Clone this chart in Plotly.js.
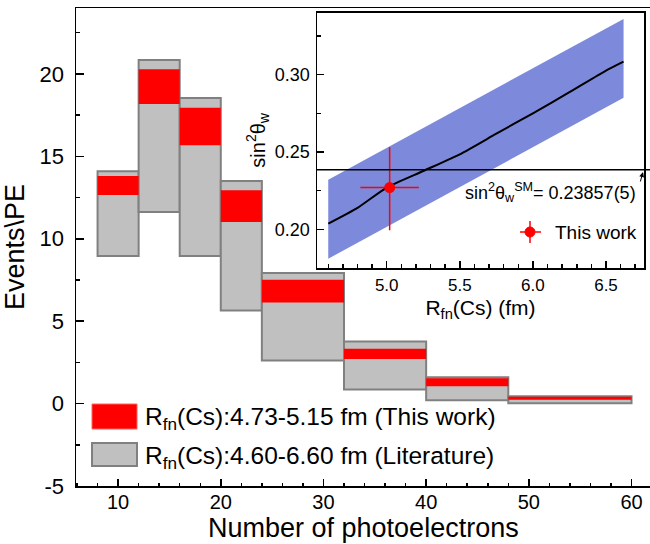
<!DOCTYPE html>
<html><head><meta charset="utf-8">
<script src="https://cdn.plot.ly/plotly-3.0.1.min.js"></script>
<style>html,body{margin:0;padding:0;background:#fff}#chart{width:650px;height:544px}</style>
</head><body><div id="chart"></div>
<script>
// ---- main histogram data ----
const binLow   = [8, 12, 16, 20, 24, 32, 40, 48];
const binHigh  = [12, 16, 20, 24, 32, 40, 48, 60];
const litLow   = [8.95, 11.63, 8.95, 5.65, 2.61, 0.85, 0.20, 0.02];
const litHigh  = [14.10, 20.85, 18.54, 13.50, 7.92, 3.77, 1.60, 0.45];
const thisLow  = [12.65, 18.18, 15.68, 11.02, 6.14, 2.70, 1.05, 0.24];
const thisHigh = [13.80, 20.28, 17.95, 12.95, 7.52, 3.32, 1.54, 0.42];
const xTickVals = [10, 20, 30, 40, 50, 60];
const yTickVals = [-5, 0, 5, 10, 15, 20];
const yTickText = ['-5', '0', '5', '10', '15', '20'];
const xTitle = 'Number of photoelectrons';
const yTitle = 'Events\\PE';
const legendLabels = ['R<sub>fn</sub>(Cs):4.73-5.15 fm (This work)', 'R<sub>fn</sub>(Cs):4.60-6.60 fm (Literature)'];

// ---- inset data ----
const rfnCurve  = [4.60, 4.80, 5.00, 5.25, 5.50, 5.75, 6.00, 6.25, 6.50, 6.62];
const sin2Curve = [0.2037, 0.2139, 0.2270, 0.2377, 0.2485, 0.2618, 0.2750, 0.2886, 0.3026, 0.3084];
const rfnBand   = [4.60, 6.62];
const bandUpper = [0.232, 0.336];
const bandLower = [0.181, 0.285];
const pointR = [5.02];
const pointS = [0.227];
const pointErrR = [0.20];
const pointErrSUp = [0.026];
const pointErrSDown = [0.0276];
const smValue = 0.23857;
const smLabel = 'sin<sup>2</sup>θ<sub>w</sub><sup>SM</sup>= 0.23857(5)';
const insetXTicks = [5.0, 5.5, 6.0, 6.5];
const insetYTicks = [0.20, 0.25, 0.30];

const centers = binLow.map((v, i) => (v + binHigh[i]) / 2);
const widths  = binLow.map((v, i) => binHigh[i] - v);

const FONT = 'Arial, "Liberation Sans", sans-serif';

const traces = [
  {type: 'bar', x: centers, width: widths, base: litLow,
   y: litHigh.map((v, i) => v - litLow[i]),
   marker: {color: '#c0c0c0', line: {color: '#808080', width: 2}},
   xaxis: 'x', yaxis: 'y', showlegend: false, hoverinfo: 'skip'},
  {type: 'bar', x: centers, width: widths, base: thisLow,
   y: thisHigh.map((v, i) => v - thisLow[i]),
   marker: {color: '#ff0000', line: {width: 0}},
   xaxis: 'x', yaxis: 'y', showlegend: false, hoverinfo: 'skip'},
  {type: 'scatter', mode: 'lines', x: rfnBand, y: bandLower,
   line: {width: 0, color: '#7d89db'}, xaxis: 'x2', yaxis: 'y2', showlegend: false},
  {type: 'scatter', mode: 'lines', x: rfnBand, y: bandUpper, fill: 'tonexty',
   fillcolor: '#7d89db', line: {width: 0, color: '#7d89db'}, xaxis: 'x2', yaxis: 'y2', showlegend: false},
  {type: 'scatter', mode: 'lines', x: rfnCurve, y: sin2Curve,
   line: {color: '#000', width: 2, shape: 'spline', smoothing: 0.6}, xaxis: 'x2', yaxis: 'y2', showlegend: false},
  {type: 'scatter', mode: 'markers', x: pointR, y: pointS,
   marker: {color: '#ff0000', size: 11},
   error_x: {type: 'data', array: pointErrR, color: '#ff0000', thickness: 1.5, width: 0},
   error_y: {type: 'data', symmetric: false, array: pointErrSUp, arrayminus: pointErrSDown, color: '#ff0000', thickness: 1.5, width: 0},
   xaxis: 'x2', yaxis: 'y2', showlegend: false}
];

// pixel -> paper helpers (plot area: x 76..650, y 8..486)
const L = 76, R = 650, T = 8, B = 486;
const px = v => (v - L) / (R - L);
const py = v => (B - v) / (B - T);

const axBase = {showline: true, linecolor: '#000', linewidth: 1.5, ticks: 'inside', tickcolor: '#000',
  tickwidth: 1.5, showgrid: false, zeroline: false, fixedrange: true};

const layout = {
  width: 650, height: 544,
  margin: {l: L, r: 0, t: T, b: 544 - B, pad: 0},
  paper_bgcolor: '#fff', plot_bgcolor: '#fff',
  font: {family: FONT, color: '#000'},
  barmode: 'overlay',
  showlegend: false,
  xaxis: Object.assign({}, axBase, {
    domain: [0, 1], range: [5.9, 61.8], mirror: true,
    tickvals: xTickVals, ticklen: 7, tickfont: {size: 20}, ticklabelstandoff: -3,
    minor: {tick0: 0, dtick: 2, ticks: 'inside', ticklen: 3.5, tickwidth: 1.5, tickcolor: '#000'}
  }),
  yaxis: Object.assign({}, axBase, {
    domain: [0, 1], range: [-5, 24], mirror: false,
    tickvals: yTickVals, ticktext: yTickText, ticklen: 8, tickfont: {size: 22}, ticklabelstandoff: 6,
    minor: {tick0: 0, dtick: 2.5, ticks: 'inside', ticklen: 4, tickwidth: 1.5, tickcolor: '#000'},
    title: {text: yTitle, font: {size: 27}, standoff: 9}
  }),
  xaxis2: Object.assign({}, axBase, {
    anchor: 'y2', domain: [px(317), px(644)], range: [4.523, 6.76], mirror: true,
    tickvals: insetXTicks, tickformat: '.1f', ticklen: 7, tickfont: {size: 17}, ticklabelstandoff: 1,
    minor: {tick0: 4.5, dtick: 0.1, ticks: 'inside', ticklen: 4, tickwidth: 1.5, tickcolor: '#000'},
    title: {text: 'R<sub>fn</sub>(Cs) (fm)', font: {size: 21}, standoff: 6}
  }),
  yaxis2: Object.assign({}, axBase, {
    anchor: 'x2', domain: [py(268), py(12.7)], range: [0.175, 0.34], mirror: true,
    tickvals: insetYTicks, tickformat: '.2f', ticklen: 7, tickfont: {size: 18}, ticklabelstandoff: 2,
    minor: {tick0: 0.175, dtick: 0.025, ticks: 'inside', ticklen: 4, tickwidth: 1.5, tickcolor: '#000'},
    title: {text: 'sin<sup>2</sup>θ<sub>w</sub>', font: {size: 20}, standoff: 4}
  }),
  shapes: [
    {type: 'line', xref: 'paper', yref: 'y2', x0: px(317), x1: 1, y0: smValue, y1: smValue,
     line: {color: '#000', width: 1.5}},
    {type: 'rect', xref: 'paper', yref: 'paper', x0: px(92), x1: px(137), y0: py(429), y1: py(404),
     fillcolor: '#ff0000', line: {color: '#ff6060', width: 1}},
    {type: 'rect', xref: 'paper', yref: 'paper', x0: px(92), x1: px(137), y0: py(466), y1: py(443),
     fillcolor: '#c0c0c0', line: {color: '#808080', width: 2}},
    {type: 'line', xref: 'paper', yref: 'paper', x0: px(520), x1: px(541), y0: py(232), y1: py(232),
     line: {color: '#ff0000', width: 1.5}},
    {type: 'line', xref: 'paper', yref: 'paper', x0: px(530), x1: px(530), y0: py(243), y1: py(221),
     line: {color: '#ff0000', width: 1.5}},
    {type: 'circle', xref: 'paper', yref: 'paper', x0: px(525), x1: px(535), y0: py(237), y1: py(227),
     fillcolor: '#ff0000', line: {color: '#ff0000', width: 1}}
  ],
  annotations: [
    {xref: 'paper', yref: 'paper', x: 0.5, y: py(545), xanchor: 'center', yanchor: 'bottom',
     text: xTitle, showarrow: false, font: {size: 27}},
    {xref: 'paper', yref: 'paper', x: px(143), y: py(419), xanchor: 'left', yanchor: 'middle',
     text: legendLabels[0], showarrow: false, font: {size: 24.5}},
    {xref: 'paper', yref: 'paper', x: px(143), y: py(457), xanchor: 'left', yanchor: 'middle',
     text: legendLabels[1], showarrow: false, font: {size: 24.5}},
    {xref: 'paper', yref: 'paper', x: px(553), y: py(232), xanchor: 'left', yanchor: 'middle',
     text: 'This work', showarrow: false, font: {size: 19}},
    {xref: 'paper', yref: 'paper', x: px(638), y: py(192), xanchor: 'right', yanchor: 'middle',
     text: smLabel, showarrow: false, font: {size: 18}},
    {xref: 'paper', yref: 'paper', x: px(643), y: py(172), text: ' ', showarrow: true,
     ax: -5, ay: 18, arrowhead: 2, arrowsize: 1, arrowwidth: 1, arrowcolor: '#000'}
  ]
};

Plotly.newPlot('chart', traces, layout, {displayModeBar: false, staticPlot: true});
</script>
</body></html>
